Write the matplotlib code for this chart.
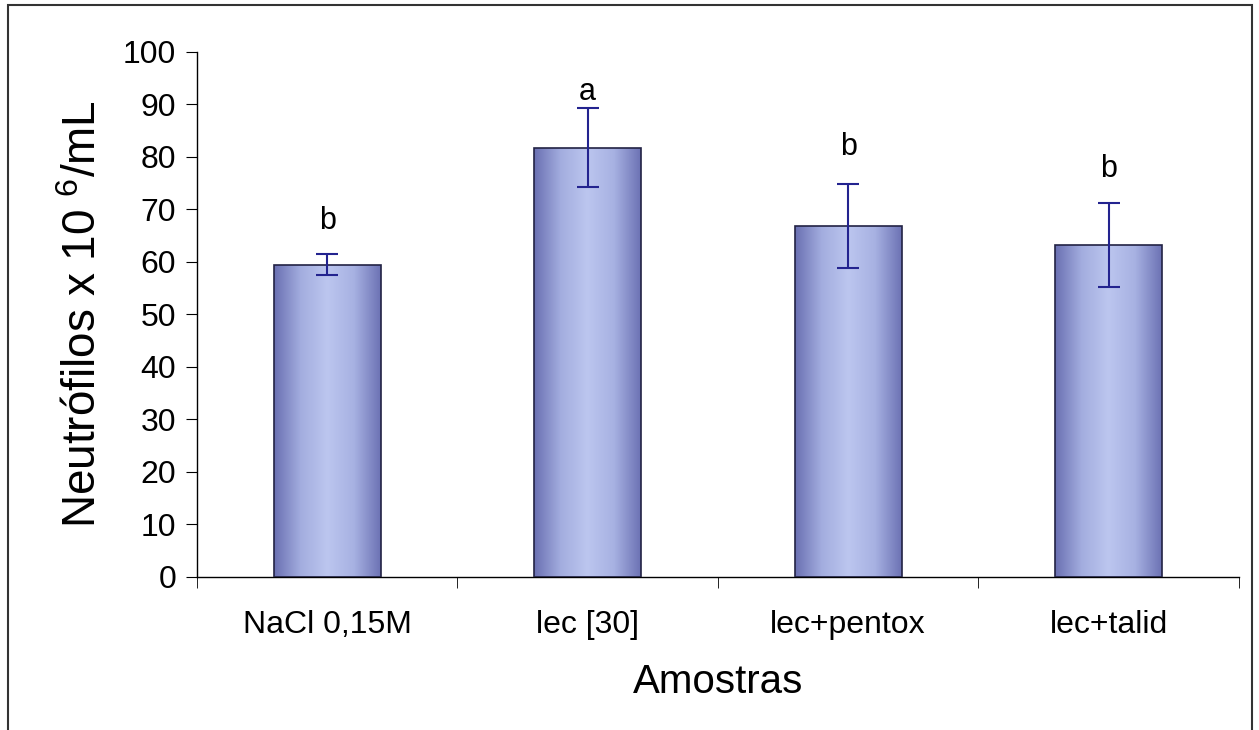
import numpy as np
import matplotlib
matplotlib.use('Agg')
import matplotlib.pyplot as plt
from matplotlib.colors import LinearSegmentedColormap
from matplotlib.patches import Rectangle

plt.rcParams['font.family'] = ['Liberation Sans', 'DejaVu Sans']
plt.rcParams['mathtext.fontset'] = 'custom'
plt.rcParams['mathtext.rm'] = 'Liberation Sans'
plt.rcParams['mathtext.it'] = 'Liberation Sans'

# data
categories = ['NaCl 0,15M', 'lec [30]', 'lec+pentox', 'lec+talid']
means = [59.5, 81.8, 66.8, 63.3]
errors = [2.0, 7.5, 8.0, 8.0]
letters = ['b', 'a', 'b', 'b']
letter_y = [66.3, 90.9, 80.4, 76.2]

fig = plt.figure(figsize=(12.59, 7.30), dpi=100)
ax = fig.add_axes([0.1565, 0.2096, 0.8275, 0.7192])

x = np.arange(len(categories))
width = 0.41

# gradient bars: darker edges, lighter middle
cmap = LinearSegmentedColormap.from_list(
    'bar', ['#6a70b2', '#a3addf', '#bcc6ef', '#a7b1e2', '#6c72b4'])
grad = np.linspace(0, 1, 256).reshape(1, -1)
bars = ax.bar(x, means, width, color='none', edgecolor='#222244',
              linewidth=1.2, zorder=3)
for b in bars:
    x0, y0 = b.get_x(), b.get_y()
    im = ax.imshow(grad, cmap=cmap, aspect='auto', zorder=2,
                   extent=[x0, x0 + b.get_width(), y0, y0 + b.get_height()])
    im.set_clip_path(b)

ax.errorbar(x, means, yerr=errors, fmt='none', ecolor='#23238f',
            elinewidth=1.5, capsize=8, capthick=1.5, zorder=4)

for xi, lab, ly in zip(x, letters, letter_y):
    ax.text(xi, ly, lab, ha='center', va='baseline', fontsize=22)

ax.set_xlim(-0.5, len(categories) - 0.5)
ax.set_ylim(0, 100)
ax.set_yticks(np.arange(0, 101, 10))
ax.set_xticks(x)
ax.set_xticklabels(categories, fontsize=23)
ax.set_xticks(np.arange(-0.5, len(categories), 1), minor=True)
ax.tick_params(axis='x', which='major', length=0, pad=24)
ax.tick_params(axis='x', which='minor', length=8, direction='out')
ax.tick_params(axis='y', labelsize=23, length=8, direction='out', pad=7)

for s in ['top', 'right']:
    ax.spines[s].set_visible(False)
ax.spines['left'].set_linewidth(1.0)
ax.spines['bottom'].set_linewidth(1.0)

ax.set_xlabel('Amostras', fontsize=29, labelpad=16)
ax.set_ylabel(r'Neutrófilos x 10 $^{6}$/mL', fontsize=33, labelpad=12)

# outer frame of the picture
fig.patches.append(Rectangle((0.0064, -0.05), 0.988, 1.043, transform=fig.transFigure,
                             fill=False, edgecolor='#333333', linewidth=1.5))

fig.savefig('out.png', dpi=100)
